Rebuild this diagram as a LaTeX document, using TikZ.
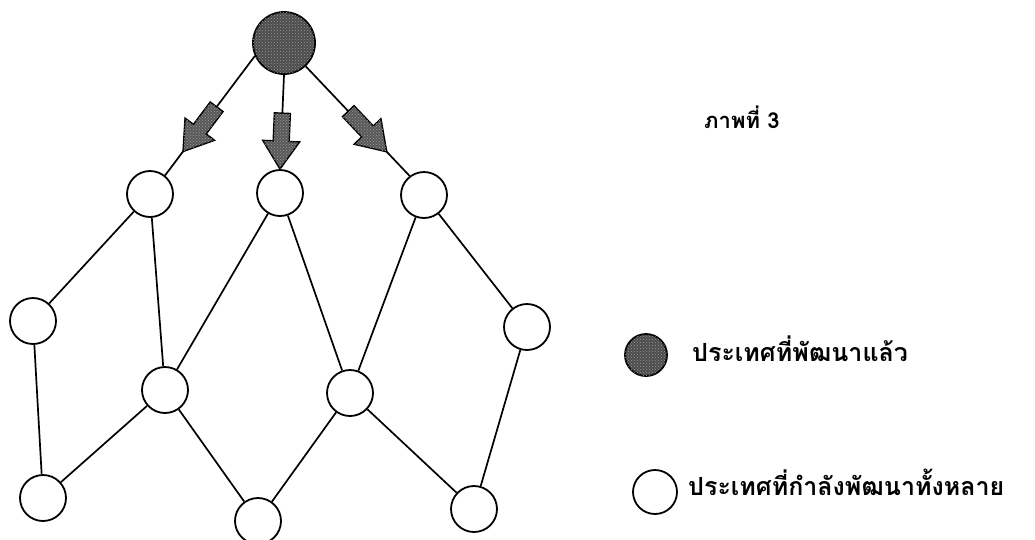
\documentclass[tikz,border=0pt]{standalone}
\usepackage{fontspec}
\newfontfamily\thaifont[Script=Thai]{Loma}
\usetikzlibrary{calc,patterns}
\newcommand\blockarr[3]{%
  \coordinate (bT) at ($(#1)!#3!(#2)$);
  \coordinate (bB) at ($(bT)!56pt!(#1)$);
  \coordinate (bH) at ($(bT)!28pt!(#1)$);
  \draw[fatarrow] ($(bB)!8pt!90:(bT)$) -- ($(bH)!8pt!90:(bT)$) -- ($(bH)!18.5pt!90:(bT)$)
     -- (bT) -- ($(bH)!18.5pt!-90:(bT)$) -- ($(bH)!8pt!-90:(bT)$) -- ($(bB)!8pt!-90:(bT)$) -- cycle;
}
\begin{document}
\begin{tikzpicture}[x=1pt,y=-1pt,
  country/.style={circle,draw=black,line width=1.8pt,minimum size=46pt,inner sep=0pt},
  developed/.style={circle,draw=black,line width=1.8pt,fill=black!70,inner sep=0pt,
     postaction={pattern=crosshatch dots,pattern color=white!60!black}},
  link/.style={line width=1.7pt},
  fatarrow/.style={draw=black,line width=1.4pt,fill=black!65,
     postaction={pattern=crosshatch dots,pattern color=white!60!black}},
  lbl/.style={font=\thaifont\bfseries\fontsize{25}{29}\selectfont,inner sep=0pt,anchor=base west}]
\useasboundingbox (0,0) rectangle (1035,539);
\fill[white] (0,0) rectangle (1035,539);

% nodes
\node[developed,minimum size=62pt] (top) at (284,43) {};
\node[country] (A) at (150,194) {};
\node[country] (B) at (280,193) {};
\node[country] (C) at (424,195) {};
\node[country] (D) at (33,321) {};
\node[country] (E) at (165,390) {};
\node[country] (F) at (350,393) {};
\node[country] (G) at (527,327) {};
\node[country] (H) at (43,498) {};
\node[country] (I) at (258,521) {};
\node[country] (J) at (474,509) {};

% links
\draw[link] (A) -- (D);
\draw[link] (A) -- (E);
\draw[link] (D) -- (H);
\draw[link] (H) -- (E);
\draw[link] (E) -- (B);
\draw[link] (E) -- (I);
\draw[link] (B) -- (F);
\draw[link] (F) -- (I);
\draw[link] (F) -- (C);
\draw[link] (F) -- (J);
\draw[link] (C) -- (G);
\draw[link] (G) -- (J);

% links from the developed country with fat arrows
\coordinate (s1) at (top.204); \coordinate (e1) at (A.51);
\coordinate (s2) at (top.south); \coordinate (e2) at (B.north);
\coordinate (s3) at (top.-47); \coordinate (e3) at (C.127);
\draw[link] (s1) -- (e1);
\draw[link] (s2) -- (e2);
\draw[link] (s3) -- (e3);
\blockarr{s1}{e1}{0.8}
\blockarr{s2}{e2}{1}
\blockarr{s3}{e3}{0.78}

% caption and legend
\node[lbl,font=\thaifont\bfseries\fontsize{22}{26}\selectfont] (cap) at (704,128) {ภาพที่ 3};
\node[developed,minimum size=42pt] (leg1) at (646,355) {};
\node[lbl] (leg1t) at (692,361) {ประเทศที่พัฒนาแล้ว};
\node[country,minimum size=44pt] (leg2) at (655,492) {};
\node[lbl] (leg2t) at (688,495) {ประเทศที่กำลังพัฒนาทั้งหลาย};
\end{tikzpicture}
\end{document}
